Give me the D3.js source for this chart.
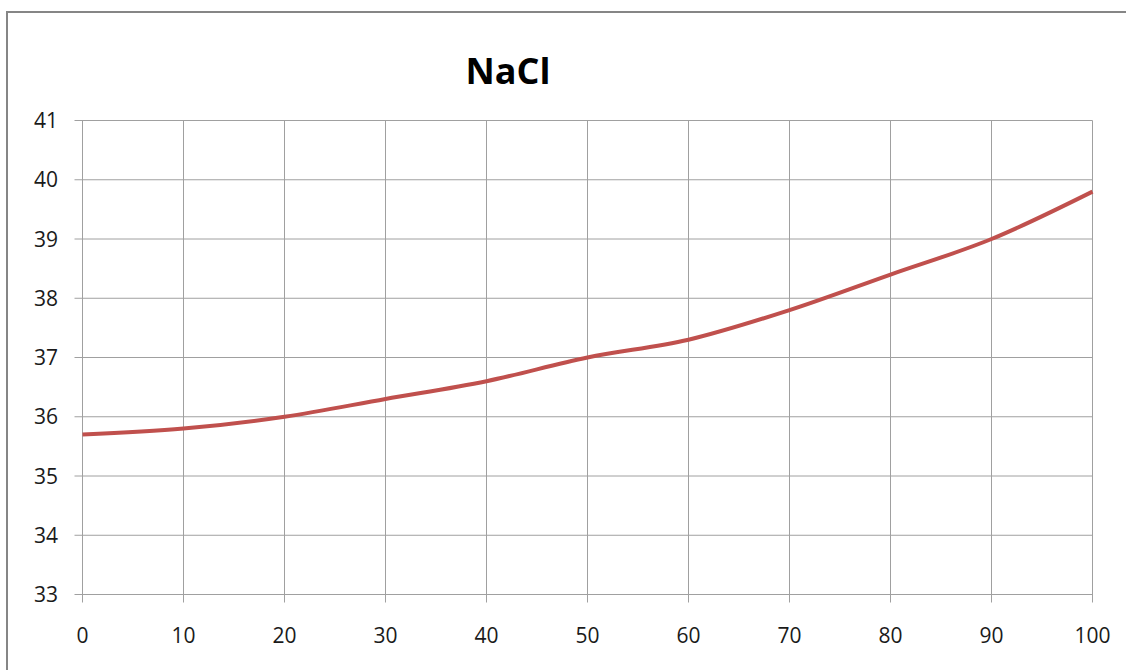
<!DOCTYPE html>
<html><head><meta charset="utf-8">
<script src="https://cdn.jsdelivr.net/npm/d3@7"></script>
<style>body{margin:0;background:#fff}svg{display:block}</style>
</head><body>
<svg id="c" width="1126" height="670"></svg>
<script>
const title = "NaCl";
const temps = [0, 10, 20, 30, 40, 50, 60, 70, 80, 90, 100];
const solubility = [35.7, 35.8, 36.0, 36.3, 36.6, 37.0, 37.3, 37.8, 38.4, 39.0, 39.8];
const yTicks = [33, 34, 35, 36, 37, 38, 39, 40, 41];
const xTicks = [0, 10, 20, 30, 40, 50, 60, 70, 80, 90, 100];

const svg = d3.select("#c");
const font = "'Open Sans', 'Liberation Sans', sans-serif";
// outer border
svg.append("rect").attr("x", 7).attr("y", 12).attr("width", 1140).attr("height", 700)
  .attr("fill", "none").attr("stroke", "#868686").attr("stroke-width", 2);

const x = d3.scaleLinear().domain([0, 100]).range([82.5, 1092.5]);
const y = d3.scaleLinear().domain([33, 41]).range([594.5, 120.5]);

const gridColor = "#a0a0a0";
svg.append("g").selectAll("line").data(yTicks).join("line")
  .attr("x1", x(0) - 8).attr("x2", x(100))
  .attr("y1", d => y(d)).attr("y2", d => y(d))
  .attr("stroke", gridColor).attr("stroke-width", 1);
svg.append("g").selectAll("line").data(xTicks).join("line")
  .attr("x1", d => x(d)).attr("x2", d => x(d))
  .attr("y1", y(41)).attr("y2", y(33) + 8)
  .attr("stroke", gridColor).attr("stroke-width", 1);

svg.append("g").selectAll("text").data(yTicks).join("text")
  .attr("x", 58).attr("y", d => y(d)).attr("dy", "0.36em")
  .attr("text-anchor", "end").attr("font-family", font).attr("font-size", 21)
  .attr("fill", "#1a1a1a").text(d => d);
svg.append("g").selectAll("text").data(xTicks).join("text")
  .attr("x", d => x(d)).attr("y", 643)
  .attr("text-anchor", "middle").attr("font-family", font).attr("font-size", 21)
  .attr("fill", "#1a1a1a").text(d => d);

svg.append("text").attr("x", 508).attr("y", 84).attr("text-anchor", "middle")
  .attr("font-family", font).attr("font-weight", "bold").attr("font-size", 36)
  .attr("fill", "#000").text(title);

const line = d3.line().x((d, i) => x(temps[i])).y(d => y(d)).curve(d3.curveMonotoneX);
svg.append("path").datum(solubility).attr("d", line)
  .attr("fill", "none").attr("stroke", "#c0504d").attr("stroke-width", 4)
  .attr("stroke-linejoin", "round");
</script>
</body></html>
